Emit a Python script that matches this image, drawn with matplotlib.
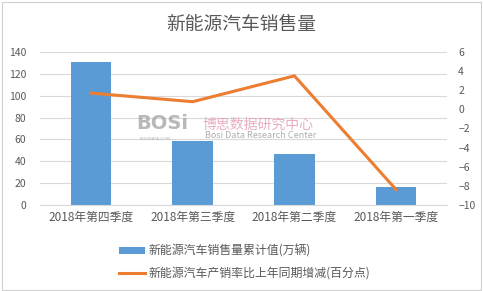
import matplotlib
matplotlib.use("Agg")
import matplotlib.pyplot as plt
from matplotlib.patches import Rectangle

plt.rcParams['font.family'] = ['Noto Sans CJK SC', 'DejaVu Sans']

categories = ["2018年第四季度", "2018年第三季度", "2018年第二季度", "2018年第一季度"]
sales = [131, 58.6, 46.5, 16.8]
growth = [1.7, 0.8, 3.5, -8.4]
left_ticks = [0, 20, 40, 60, 80, 100, 120, 140]
right_ticks = [-10, -8, -6, -4, -2, 0, 2, 4, 6]
title = "新能源汽车销售量"
bar_label = "新能源汽车销售量累计值(万辆)"
line_label = "新能源汽车产销率比上年同期增减(百分点)"

text_color = "#595959"
bar_color = "#5B9BD5"
line_color = "#ED7D31"
grid_color = "#D9D9D9"

fig = plt.figure(figsize=(4.83, 2.91), dpi=100)
fig.patch.set_facecolor("white")
fig.patches.append(Rectangle((0.004, 0.004), 0.992, 0.99, transform=fig.transFigure,
                             fill=False, edgecolor="#D0D0D0", linewidth=0.8))

ax = fig.add_axes([0.083, 0.2955, 0.8425, 0.526])
x = list(range(len(categories)))
bars = ax.bar(x, sales, width=0.4, color=bar_color, zorder=2, label=bar_label)
ax.set_ylim(0, 140)
ax.set_yticks(left_ticks)
ax.set_xlim(-0.5, len(categories) - 0.5)
ax.set_xticks(x)
ax.set_xticklabels(categories, fontsize=8.5, color=text_color)
ax.tick_params(axis="y", labelsize=7.5, labelcolor=text_color, length=0, pad=10)
ax.tick_params(axis="x", length=0, pad=4)
ax.grid(axis="y", color=grid_color, linewidth=0.8, zorder=0)
for s in ax.spines.values():
    s.set_visible(False)
ax.spines["bottom"].set_visible(True)
ax.spines["bottom"].set_color(grid_color)

ax2 = ax.twinx()
line, = ax2.plot(x, growth, color=line_color, linewidth=2.2, zorder=3, label=line_label)
ax2.set_ylim(-10, 6)
ax2.set_yticks(right_ticks)
ax2.tick_params(axis="y", labelsize=7.5, labelcolor=text_color, length=0, pad=8)
for s in ax2.spines.values():
    s.set_visible(False)

fig.text(0.5, 0.915, title, ha="center", va="center", fontsize=13.5, color=text_color)

# faint watermark
fig.text(0.283, 0.577, "BOSi", fontsize=14, fontweight="bold", color="#9a9a9a",
         alpha=0.7, ha="left", va="center", family="DejaVu Sans")
fig.text(0.29, 0.522, "BOSIDATA.COM", fontsize=3, color="#9a9a9a", alpha=0.7,
         ha="left", va="center", family="DejaVu Sans")
fig.text(0.42, 0.572, "博思数据研究中心", fontsize=10, color="#E39AB0", alpha=0.8,
         ha="left", va="center")
fig.text(0.424, 0.533, "Bosi Data Research Center", fontsize=6.5, color="#9a9a9a",
         alpha=0.8, ha="left", va="center")

leg = fig.legend(handles=[bars, line], labels=[bar_label, line_label],
                 loc="upper left", bbox_to_anchor=(0.234, 0.18), frameon=False,
                 fontsize=8.6, handlelength=2.2, handleheight=0.55,
                 labelspacing=0.75, handletextpad=0.3, borderpad=0)
for t in leg.get_texts():
    t.set_color(text_color)

fig.savefig("out.png", dpi=100, facecolor="white")
